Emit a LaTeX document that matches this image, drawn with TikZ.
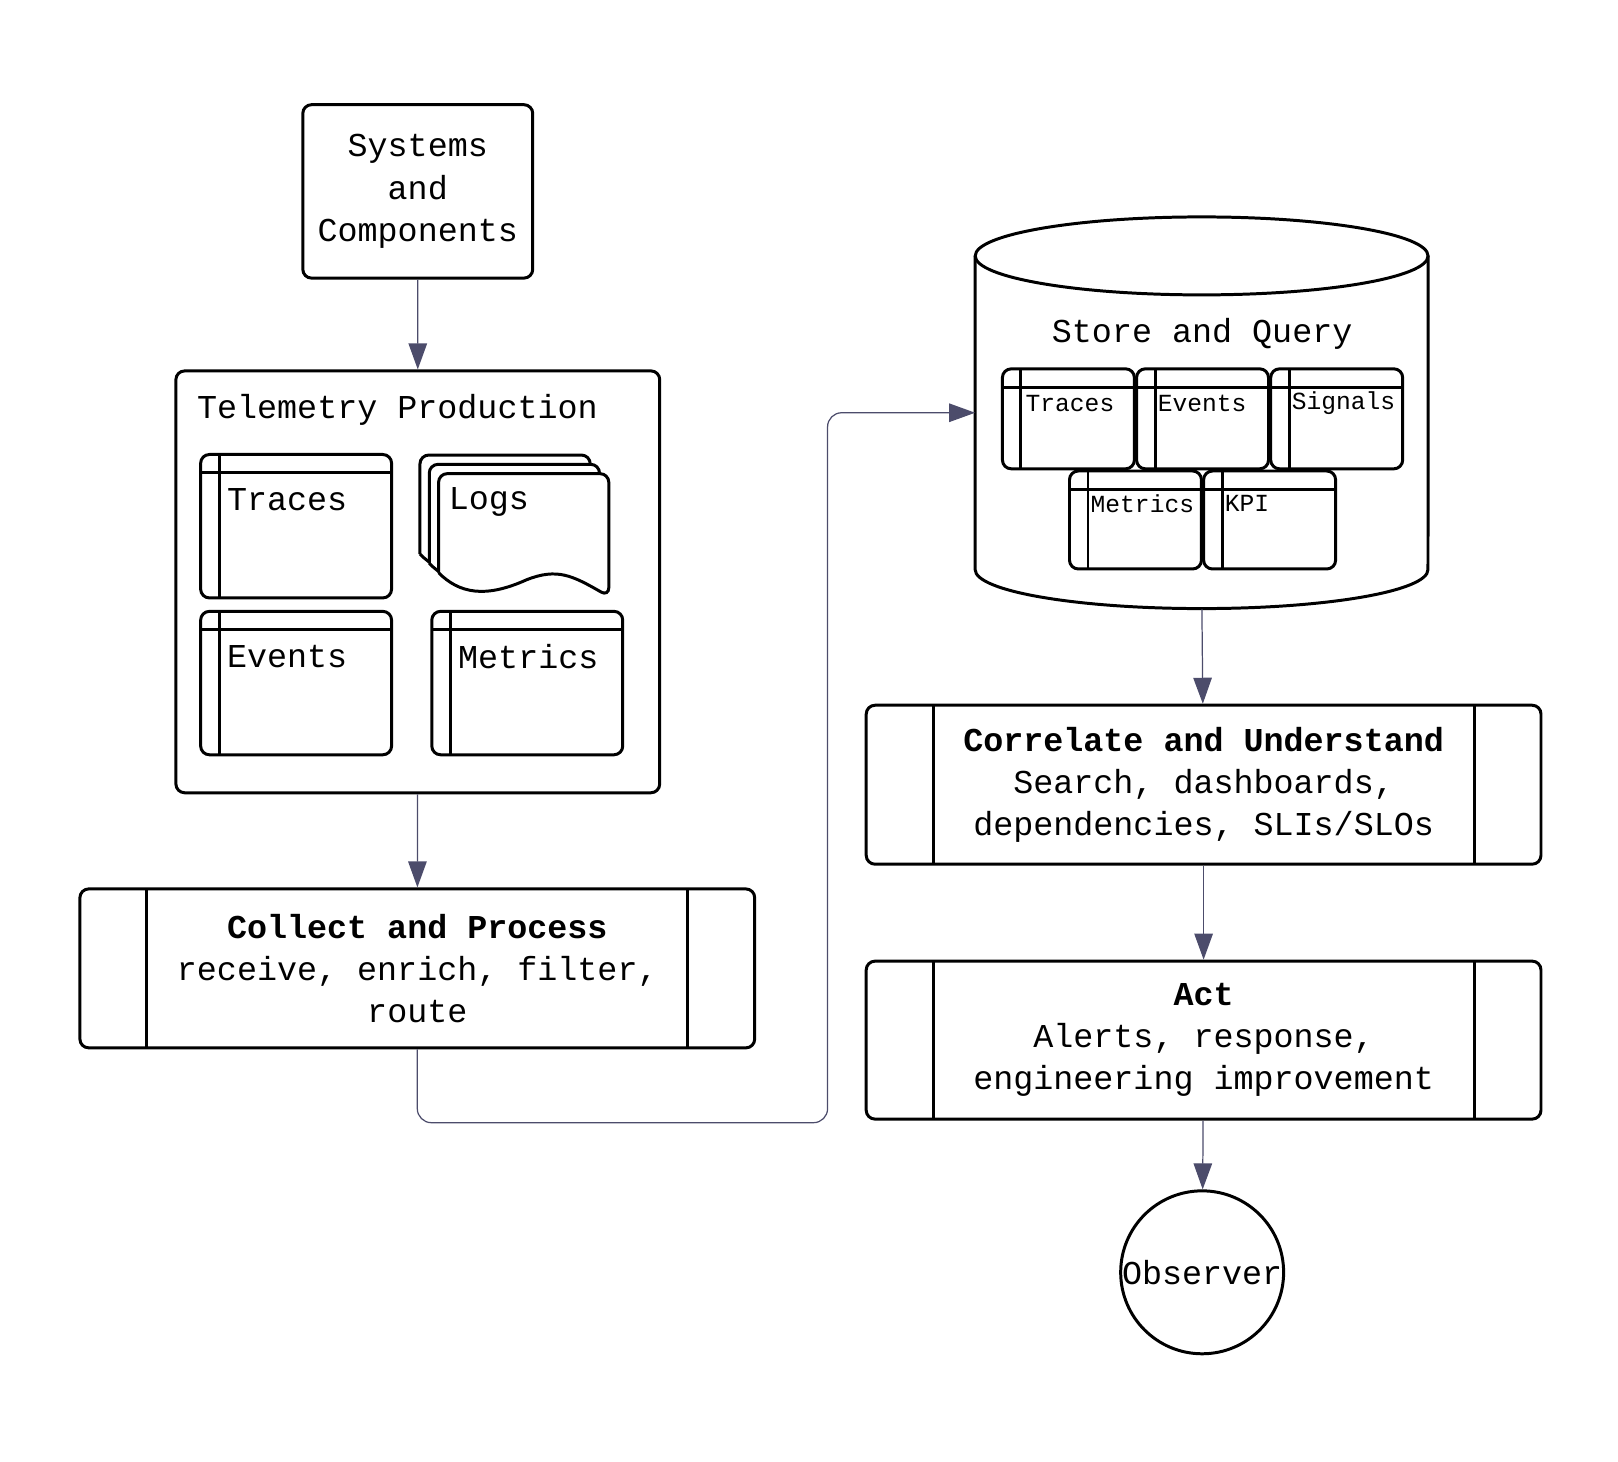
\documentclass[tikz,border=0pt]{standalone}
\usepackage{fontspec}
\setmonofont{Liberation Mono}
\usetikzlibrary{arrows.meta}

\tikzset{
  box/.style = {draw, line width=1.7pt, rounded corners=5pt, fill=white, anchor=north west, inner sep=0pt},
  card/.style = {box, path picture={
      \draw[line width=1.7pt] ([xshift=0.37cm]path picture bounding box.north west) -- ([xshift=0.37cm]path picture bounding box.south west);
      \draw[line width=1.7pt] ([yshift=-0.37cm]path picture bounding box.north west) -- ([yshift=-0.37cm]path picture bounding box.north east);}},
  proc/.style = {box, path picture={
      \draw[line width=1.7pt] ([xshift=1.34cm]path picture bounding box.north west) -- ([xshift=1.34cm]path picture bounding box.south west);
      \draw[line width=1.7pt] ([xshift=-1.34cm]path picture bounding box.north east) -- ([xshift=-1.34cm]path picture bounding box.south east);}},
  flow/.style = {draw=black!70!blue!40!gray, line width=0.7pt, -{Triangle[length=0.52cm, width=0.37cm]}},
  big/.style = {font=\ttfamily\fontsize{19}{24}\selectfont},
  small/.style = {font=\ttfamily\fontsize{14}{17}\selectfont}
}

\begin{document}
\begin{tikzpicture}[x=0.02064cm, y=-0.02064cm]
  \useasboundingbox (0,0) rectangle (1568,1416);

  % source
  \node[box, big, minimum width=4.6cm, minimum height=3.47cm, align=center] (systems) at (292,100) {Systems\\and\\Components};

  % telemetry production
  \node[box, minimum width=9.68cm, minimum height=8.44cm] (telemetry) at (169,358) {};
  \node[big, anchor=west] (telemetry title) at (185,397) {Telemetry Production};
  \node[card, minimum width=3.82cm, minimum height=2.87cm] (traces) at (193,439) {};
  \node[big, anchor=west] at (214,484) {Traces};
  \node[card, minimum width=3.82cm, minimum height=2.87cm] (events) at (193,591) {};
  \node[big, anchor=west] at (214,636) {Events};
  \node[card, minimum width=3.82cm, minimum height=2.87cm] (metrics) at (417,591) {};
  \node[big, anchor=west] at (438,636) {Metrics};
  % logs (stacked documents)
  \foreach \d in {18,9,0} {
    \draw[line width=1.7pt, fill=white, rounded corners=5pt, shift={(-\d,-\d)}]
      (425,555) -- (425,459) -- (590,459) -- (590,578)
      [sharp corners] .. controls (555,558) and (540,550) .. (510,562)
      .. controls (470,580) and (445,575) .. (425,555);
  }
  \node[big, anchor=west] (logs) at (429,486) {Logs};

  % collect
  \node[proc, big, minimum width=13.5cm, minimum height=3.18cm, align=center] (collect) at (76,860)
    {\textbf{Collect and Process}\\receive, enrich, filter,\\route};

  % store (cylinder)
  \draw[line width=1.7pt] (945,248) -- (945,552) arc[start angle=180, end angle=360, x radius=4.53cm, y radius=0.78cm] -- (1384,248);
  \draw[line width=1.7pt] (1164.5,248) ellipse[x radius=4.53cm, y radius=0.78cm];
  \node[minimum width=9.06cm, minimum height=7.84cm, anchor=north west] (store) at (945,210) {};
  \node[big] (store title) at (1165,324) {Store and Query};
  \node[card, minimum width=2.64cm, minimum height=2cm] (s traces) at (970,356) {};
  \node[small, anchor=west] at (988,391) {Traces};
  \node[card, minimum width=2.64cm, minimum height=2cm] (s events) at (1100,356) {};
  \node[small, anchor=west] at (1116,391) {Events};
  \node[card, minimum width=2.64cm, minimum height=2cm] (s signals) at (1230,356) {};
  \node[small, anchor=west] at (1246,391) {Signals};
  \node[card, minimum width=2.64cm, minimum height=1.96cm] (s metrics) at (1035,455) {};
  \node[small, anchor=west] at (1051,488) {Metrics};
  \node[card, minimum width=2.64cm, minimum height=1.96cm] (s kpi) at (1165,455) {};
  \node[small, anchor=west] at (1181,488) {KPI};

  % correlate and act
  \node[proc, big, minimum width=13.5cm, minimum height=3.18cm, align=center] (correlate) at (838,682)
    {\textbf{Correlate and Understand}\\Search, dashboards,\\dependencies, SLIs/SLOs};
  \node[proc, big, minimum width=13.5cm, minimum height=3.16cm, align=center] (act) at (838,930)
    {\textbf{Act}\\Alerts, response,\\engineering improvement};
  \node[draw, line width=1.7pt, circle, minimum size=3.26cm, inner sep=0pt, big] (observer) at (1165,1233) {Observer};

  \coordinate (loop low) at (802,1088);
  \coordinate (loop high) at (802,400);
  \coordinate (store in) at (945,400);

  \draw[flow] (systems) -- (telemetry);
  \draw[flow] (telemetry) -- (collect);
  \draw[flow, rounded corners=8pt] (collect.south) |- (loop low) -- (loop high) -- (store in);
  \draw[flow] (store.south) -- (correlate);
  \draw[flow] (correlate) -- (act);
  \draw[flow] (act) -- (observer);
\end{tikzpicture}
\end{document}
